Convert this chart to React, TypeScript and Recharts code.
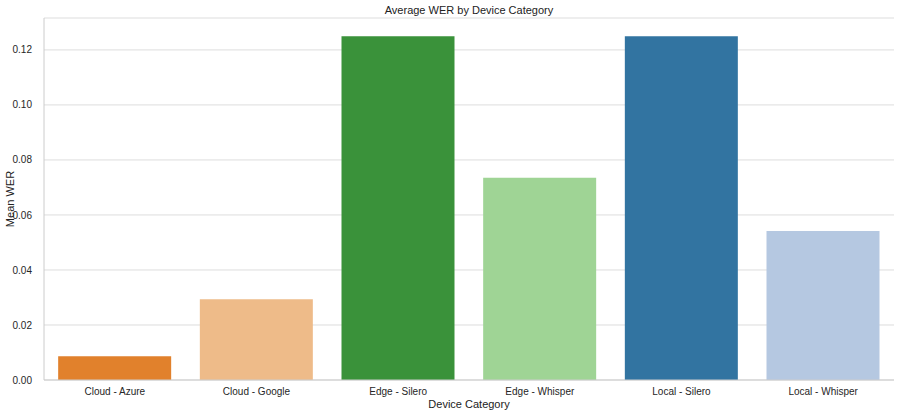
import { BarChart, Bar, XAxis, YAxis, CartesianGrid, Cell } from 'recharts';

const categories = ['Cloud - Azure', 'Cloud - Google', 'Edge - Silero', 'Edge - Whisper', 'Local - Silero', 'Local - Whisper'];
const meanWer = [0.0086, 0.0294, 0.125, 0.0735, 0.125, 0.0542];
const barColors = ['#e1812c', '#eebb89', '#3a923a', '#9fd495', '#3274a1', '#b5c8e1'];
const yTicks = [0, 0.02, 0.04, 0.06, 0.08, 0.1, 0.12];

const data = categories.map((name, i) => ({ name, wer: meanWer[i] }));

const font = '"Liberation Sans", Arial, sans-serif';

export default function App() {
  return (
    <div style={{ position: 'absolute', left: 0, top: 0, width: 900, height: 415, background: '#fff', fontFamily: font }}>
      <div style={{ position: 'absolute', top: 4, left: 44, width: 850, textAlign: 'center', fontSize: 11, color: '#222' }}>
        Average WER by Device Category
      </div>
      <BarChart width={900} height={415} data={data} margin={{ top: 18, right: 6, left: 0, bottom: 0 }} barCategoryGap="10%">
        <CartesianGrid vertical={false} stroke="#dddddd" strokeWidth={1} />
        <XAxis
          dataKey="name"
          height={35}
          tickLine={false}
          axisLine={{ stroke: '#cccccc' }}
          tick={{ fontSize: 10, fill: '#262626', fontFamily: font }}
          tickMargin={2}
          interval={0}
          label={{ value: 'Device Category', position: 'insideBottom', offset: 7, fontSize: 11, fill: '#222', fontFamily: font }}
        />
        <XAxis xAxisId="top" orientation="top" dataKey="name" height={0} tick={false} tickLine={false} axisLine={{ stroke: '#cccccc' }} />
        <YAxis
          width={44}
          domain={[0, 0.1316]}
          ticks={yTicks}
          tickFormatter={(v: number) => v.toFixed(2)}
          tickLine={false}
          axisLine={{ stroke: '#cccccc' }}
          tick={{ fontSize: 10, fill: '#262626', fontFamily: font }}
          tickMargin={6}
          label={{ value: 'Mean WER', angle: -90, position: 'insideLeft', offset: 10, fontSize: 11, fill: '#222', fontFamily: font, style: { textAnchor: 'middle' } }}
        />
        <YAxis yAxisId="right" orientation="right" width={0} tick={false} tickLine={false} axisLine={{ stroke: '#cccccc' }} />
        <Bar dataKey="wer" isAnimationActive={false}>
          {data.map((d, i) => (
            <Cell key={d.name} fill={barColors[i]} />
          ))}
        </Bar>
      </BarChart>
    </div>
  );
}
